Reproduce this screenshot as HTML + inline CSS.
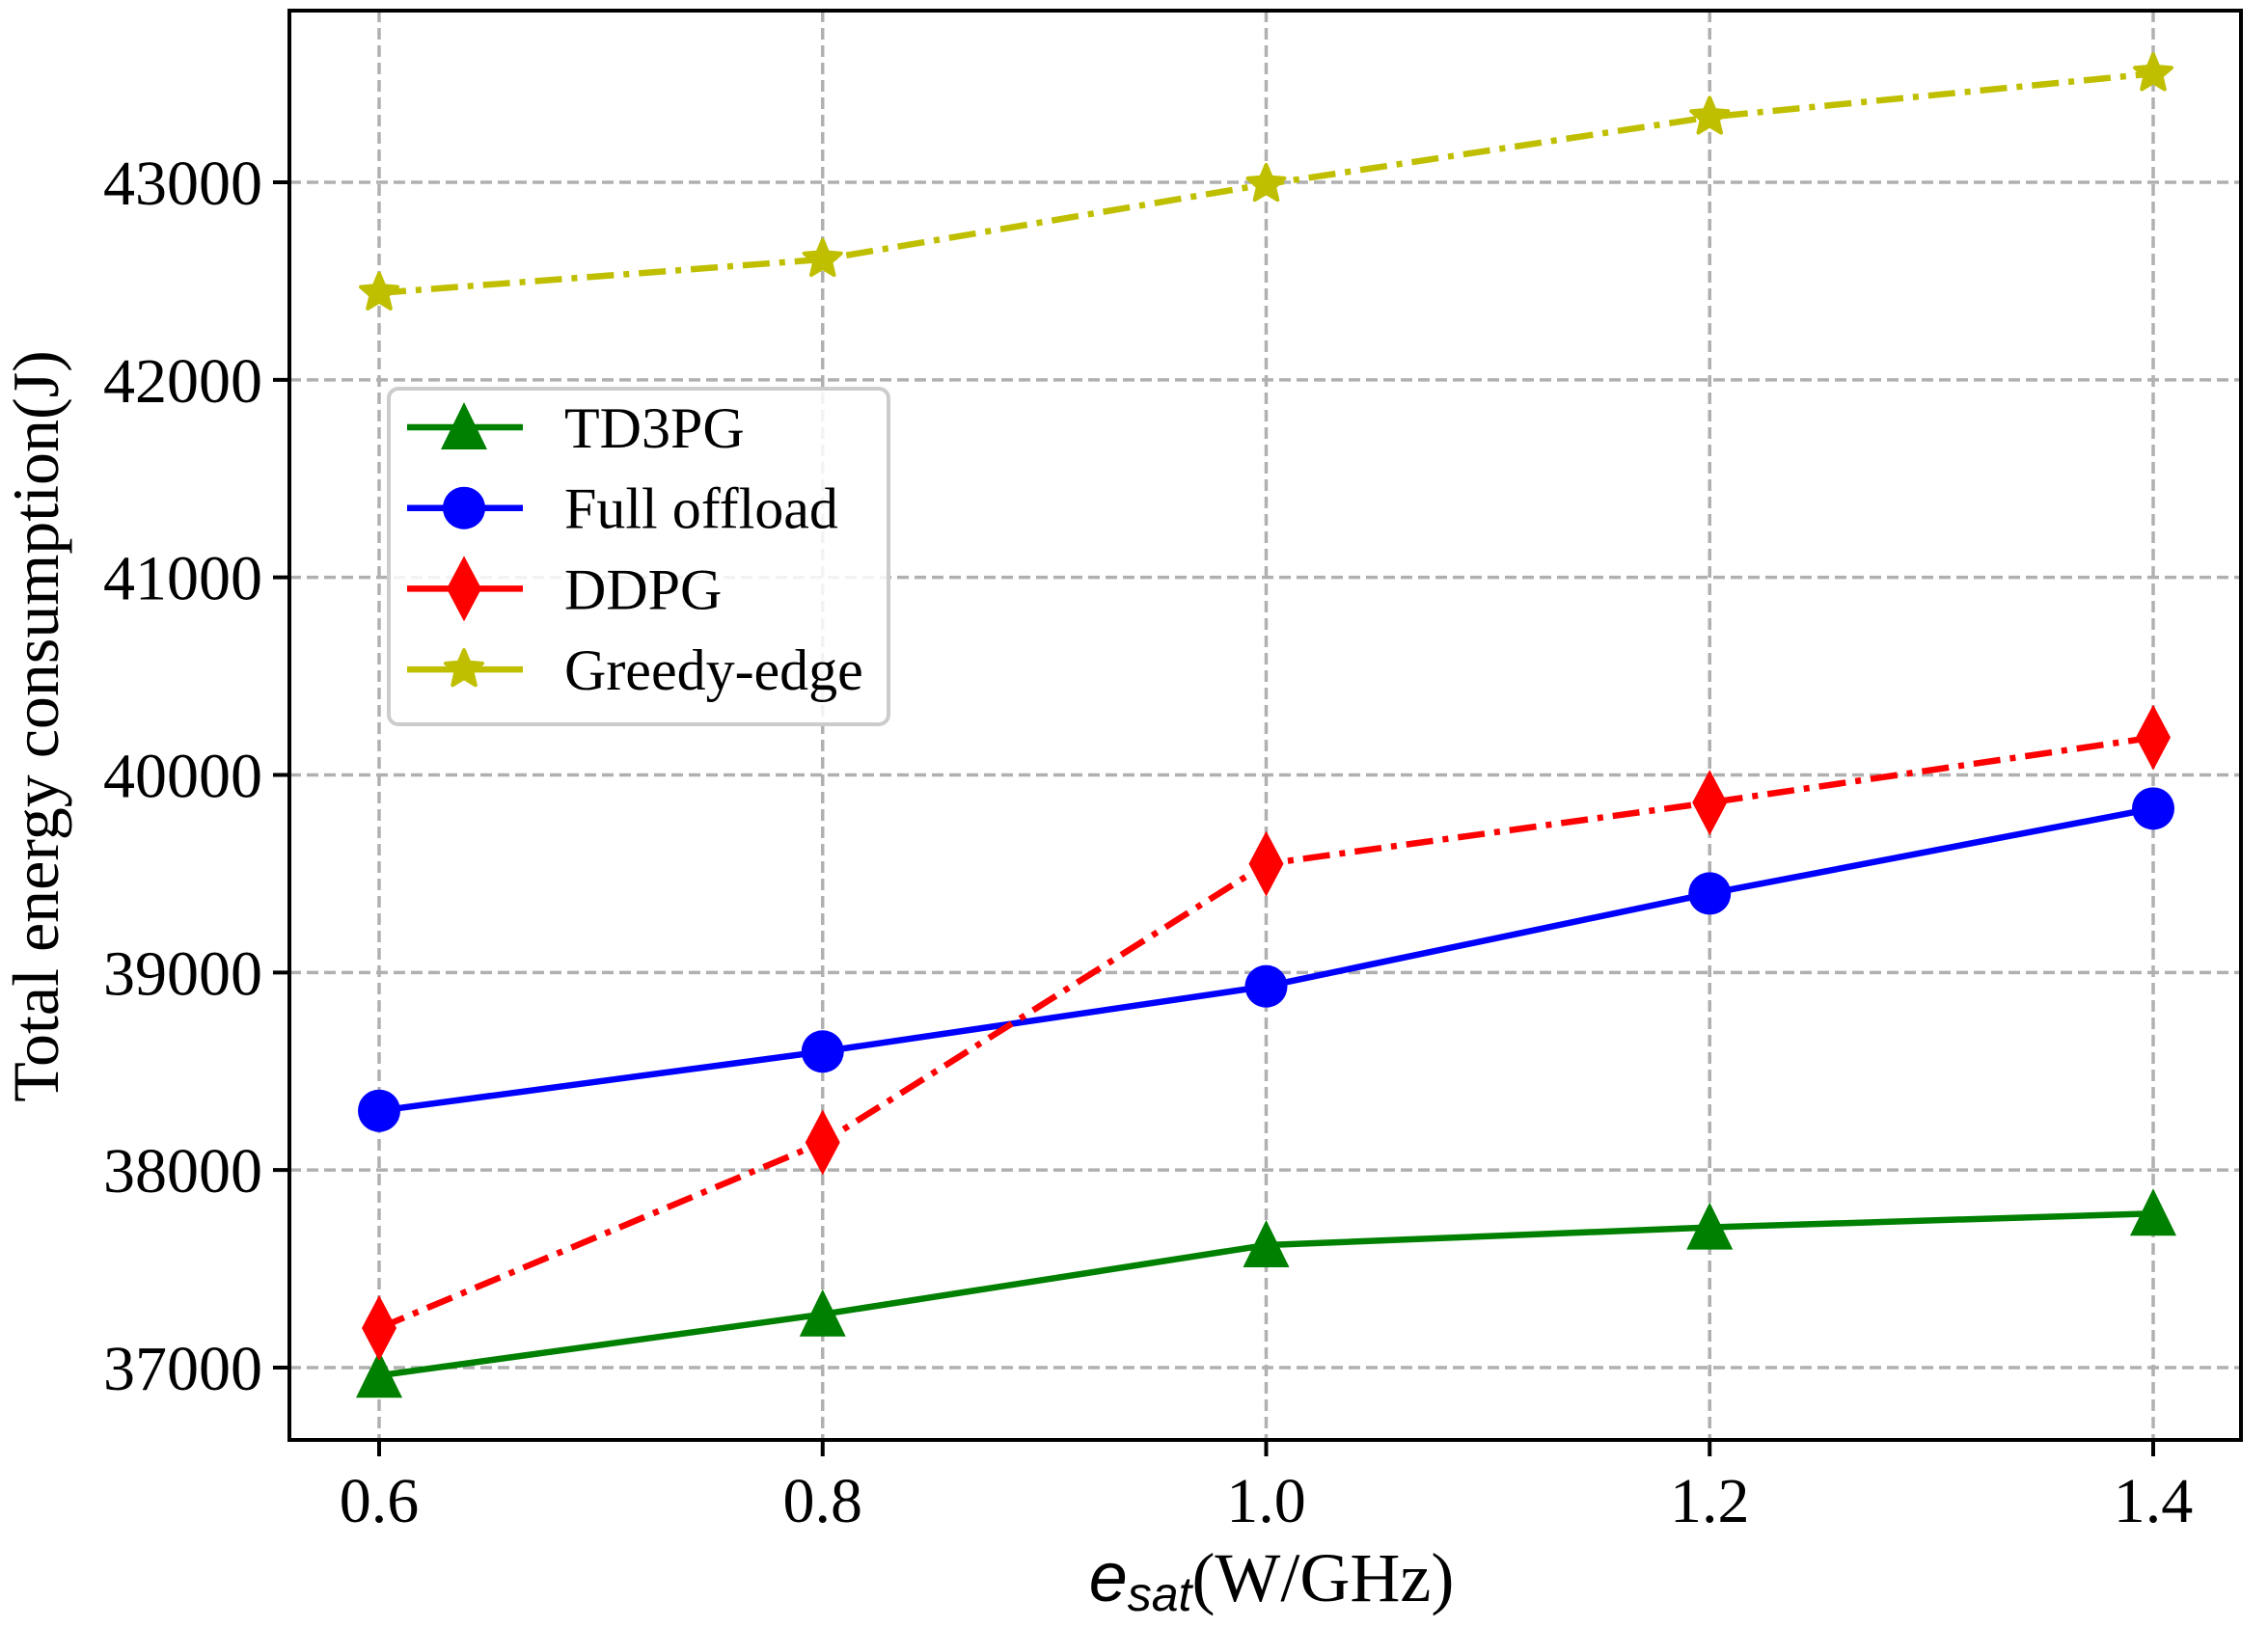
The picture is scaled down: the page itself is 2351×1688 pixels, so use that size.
<!DOCTYPE html>
<html><head><meta charset="utf-8"><style>
html,body{margin:0;padding:0;background:#fff;}
svg{display:block;font-family:"Liberation Serif",serif;}
</style></head><body>
<svg id="chart" width="2351" height="1688" viewBox="0 0 2351 1688">
<g id="grid"></g>
<g id="series"></g>
<rect x="300" y="11" width="2023" height="1482" fill="none" stroke="#000" stroke-width="4"/>
<g id="ticks"></g>
<text x="1318" y="1660" text-anchor="middle" font-size="72"><tspan font-style="italic" font-family="Liberation Sans, sans-serif">e</tspan><tspan font-style="italic" font-family="Liberation Sans, sans-serif" font-size="50" dy="10">sat</tspan><tspan dy="-10">(W/GHz)</tspan></text>
<text transform="translate(60,753) rotate(-90)" text-anchor="middle" font-size="68">Total energy consumption(J)</text>
<g id="legend">
<rect x="403" y="403" width="518" height="348" rx="10" fill="#fff" fill-opacity="0.85" stroke="#ccc" stroke-width="4"/>
</g>
</svg>
<script>
const categories = [0.6, 0.8, 1.0, 1.2, 1.4];
const xTicks = ["0.6","0.8","1.0","1.2","1.4"];
const yTicks = [37000, 38000, 39000, 40000, 41000, 42000, 43000];
const td3pg = [36960, 37270, 37620, 37710, 37780];
const fullOffload = [38300, 38600, 38930, 39400, 39830];
const ddpg = [37200, 38140, 39550, 39860, 40190];
const greedyEdge = [42440, 42610, 42990, 43330, 43550];
const seriesNames = ["TD3PG","Full offload","DDPG","Greedy-edge"];

const NS="http://www.w3.org/2000/svg";
function xs(v){return 393+(v-0.6)/0.8*(2232-393);}
function ys(v){return 1418-(v-37000)/6000*(1418-189);}
function mk(tag,attrs,parent){const e=document.createElementNS(NS,tag);for(const k in attrs)e.setAttribute(k,attrs[k]);parent.appendChild(e);return e;}
const grid=document.getElementById('grid'),ticks=document.getElementById('ticks'),ser=document.getElementById('series'),leg=document.getElementById('legend');
categories.forEach((c,i)=>{
  const x=xs(c);
  const g=mk('line',{x1:x,x2:x,y1:11,y2:1493,stroke:'#b0b0b0','stroke-width':3.5,'stroke-dasharray':'12,6'},grid);
  
  
  const t=mk('line',{x1:x,x2:x,y1:1493,y2:1510,stroke:'#000','stroke-width':4},ticks);
  
  
  const l=mk('text',{x:x,y:1578,'text-anchor':'middle','font-size':66},ticks);
  l.textContent=xTicks[i];
  
  
});
yTicks.forEach(v=>{
  const y=ys(v);
  const g=mk('line',{x1:300,x2:2323,y1:y,y2:y,stroke:'#b0b0b0','stroke-width':3.5,'stroke-dasharray':'12,6'},grid);
  
  
  const t=mk('line',{x1:283,x2:300,y1:y,y2:y,stroke:'#000','stroke-width':4},ticks);
  
  
  const l=mk('text',{x:272,y:y+23,'text-anchor':'end','font-size':66},ticks);
  l.textContent=String(v);
  
  
});
function marker(type,x,y,color,parent){
  let e;
  if(type==='tri') e=mk('polygon',{points:`${x},${y-26} ${x-24},${y+23} ${x+24},${y+23}`,fill:color},parent);
  else if(type==='circle') e=mk('circle',{cx:x,cy:y,r:22,fill:color},parent);
  else if(type==='diamond') e=mk('polygon',{points:`${x},${y-34} ${x+18},${y} ${x},${y+34} ${x-18},${y}`,fill:color},parent);
  else {let p=[];for(let k=0;k<10;k++){const r=k%2?9:20;const a=-Math.PI/2+k*Math.PI/5;p.push((x+r*Math.cos(a)).toFixed(1)+','+(y+r*Math.sin(a)).toFixed(1));}
    e=mk('polygon',{points:p.join(' '),fill:color,stroke:color,'stroke-width':4,'stroke-linejoin':'round'},parent);}
  return e;
}
const defs=[
 {data:td3pg,color:'#008000',m:'tri',dash:null,name:'td3pg'},
 {data:fullOffload,color:'#0000ff',m:'circle',dash:null,name:'full-offload'},
 {data:ddpg,color:'#ff0000',m:'diamond',dash:'28,10,6,10',name:'ddpg'},
 {data:greedyEdge,color:'#bfbf00',m:'star',dash:'28,10,6,10',name:'greedy-edge'}
];
defs.forEach((d,si)=>{
  const pts=d.data.map((v,i)=>xs(categories[i]).toFixed(1)+','+ys(v).toFixed(1)).join(' ');
  const a={points:pts,fill:'none',stroke:d.color,'stroke-width':6.5};
  if(d.dash)a['stroke-dasharray']=d.dash;
  const pl=mk('polyline',a,ser);
  
  
  d.data.forEach((v,i)=>{
    const m=marker(d.m,xs(categories[i]),ys(v),d.color,ser);
    
    
  });
  const ly=443+si*83.7;
  const ll=mk('line',{x1:422,x2:542,y1:ly,y2:ly,stroke:d.color,'stroke-width':6.5},leg);
  
  
  const lm=marker(d.m,481,ly,d.color,leg);
  
  
  const lt=mk('text',{x:585,y:ly+21,'font-size':60},leg);
  lt.textContent=seriesNames[si];
  
  
});
</script>
</body></html>
